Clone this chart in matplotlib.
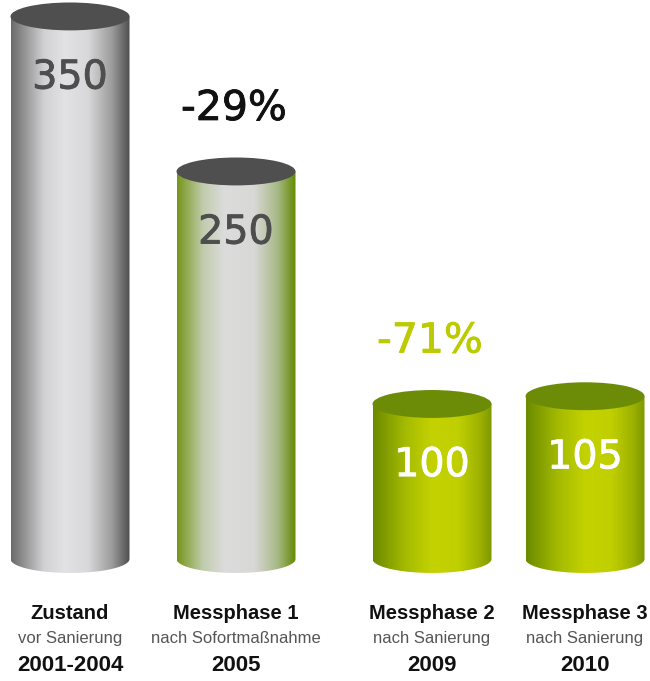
import numpy as np
import matplotlib
matplotlib.use("Agg")
import matplotlib.pyplot as plt
import matplotlib.patheffects as pe
from matplotlib.colors import LinearSegmentedColormap
from matplotlib.patches import Ellipse, PathPatch
from matplotlib.path import Path

# values
phases = ['Zustand', 'Messphase 1', 'Messphase 2', 'Messphase 3']
subtitles = ['vor Sanierung', 'nach Sofortmaßnahme', 'nach Sanierung', 'nach Sanierung']
years = ['2001-2004', '2005', '2009', '2010']
values = [350, 250, 100, 105]
changes = ['', '-29%', '-71%', '']

# layout (x in pixel-like units, y in data units)
x_pos = [70, 236, 432, 585]
bar_w = 119
cap_h = 9   # half height of the ellipse caps

# gradients for the cylinder bodies
gray_cm = LinearSegmentedColormap.from_list('gray', [
    (0, '#6a6a6a'), (0.28, '#d2d2d4'), (0.45, '#e2e2e4'),
    (0.65, '#d8d8da'), (0.85, '#9c9c9c'), (1, '#4e4e4e')])
sage_cm = LinearSegmentedColormap.from_list('sage', [
    (0, '#76961c'), (0.22, '#c2ccae'), (0.4, '#dcdcdc'),
    (0.65, '#d8d8d6'), (0.85, '#a6b884'), (1, '#638a00')])
lime_cm = LinearSegmentedColormap.from_list('lime', [
    (0, '#6c8a00'), (0.28, '#a6bc00'), (0.5, '#c4d200'),
    (0.72, '#c0cf00'), (0.9, '#9db200'), (1, '#7e9800')])
body_cmaps = [gray_cm, sage_cm, lime_cm, lime_cm]
cap_colors = ['#4f4f4f', '#4f4f4f', '#6c8c08', '#6c8c08']
value_colors = ['#4e4e4e', '#4e4e4e', 'white', 'white']
change_colors = ['black', '#111111', '#bccb00', 'black']

fig = plt.figure(figsize=(6.5, 6.81), dpi=100)
ax = fig.add_axes([0, 0, 1, 1])

grad = np.linspace(0, 1, 256).reshape(1, -1)

for i, v in enumerate(values):
    xc = x_pos[i]
    x0, x1 = xc - bar_w / 2, xc + bar_w / 2

    # body outline: straight sides plus rounded bottom
    t = np.linspace(np.pi, 2 * np.pi, 60)
    verts = [(x0, v), (x0, 0)]
    verts += list(zip(xc + bar_w / 2 * np.cos(t), cap_h * np.sin(t)))
    verts += [(x1, v), (x0, v)]
    codes = [Path.MOVETO] + [Path.LINETO] * (len(verts) - 2) + [Path.CLOSEPOLY]
    outline = PathPatch(Path(verts, codes), facecolor='none', edgecolor='none',
                        transform=ax.transData)
    ax.add_patch(outline)

    im = ax.imshow(grad, cmap=body_cmaps[i], aspect='auto', interpolation='bicubic',
                   extent=(x0, x1, -cap_h, v), zorder=2)
    im.set_clip_path(outline)

    ax.add_patch(Ellipse((xc, v), bar_w, 2 * cap_h, facecolor=cap_colors[i],
                         edgecolor='none', zorder=3))

    # thicken the regular face a little, the original digits are semi-bold
    ax.annotate(str(v), (xc, v), xytext=(0, -44), textcoords='offset points',
                ha='center', va='center', fontsize=28.5, color=value_colors[i],
                family='DejaVu Sans', zorder=4,
                path_effects=[pe.withStroke(linewidth=0.6, foreground=value_colors[i])])

    if changes[i]:
        ax.annotate(changes[i], (xc - 2, v), xytext=(0, 45), textcoords='offset points',
                    ha='center', va='center', fontsize=29.5, color=change_colors[i],
                    family='DejaVu Sans', zorder=4,
                    path_effects=[pe.withStroke(linewidth=0.6, foreground=change_colors[i])])

# category labels under the cylinders
tr = ax.get_xaxis_transform()
for i in range(len(phases)):
    ax.text(x_pos[i], 0.099, phases[i], transform=tr, ha='center', va='center',
            fontsize=14.5, fontweight='bold', family='Liberation Sans', color='#111111')
    ax.text(x_pos[i], 0.062, subtitles[i], transform=tr, ha='center', va='center',
            fontsize=12, family='Liberation Sans', color='#555555')
    ax.text(x_pos[i], 0.023, years[i], transform=tr, ha='center', va='center',
            fontsize=16, fontweight='bold', family='Liberation Sans', color='#111111')

ax.set_xlim(0, 650)
ax.set_ylim(-78.7, 360.6)
ax.axis('off')

fig.savefig('out.png', dpi=100, facecolor='white')
